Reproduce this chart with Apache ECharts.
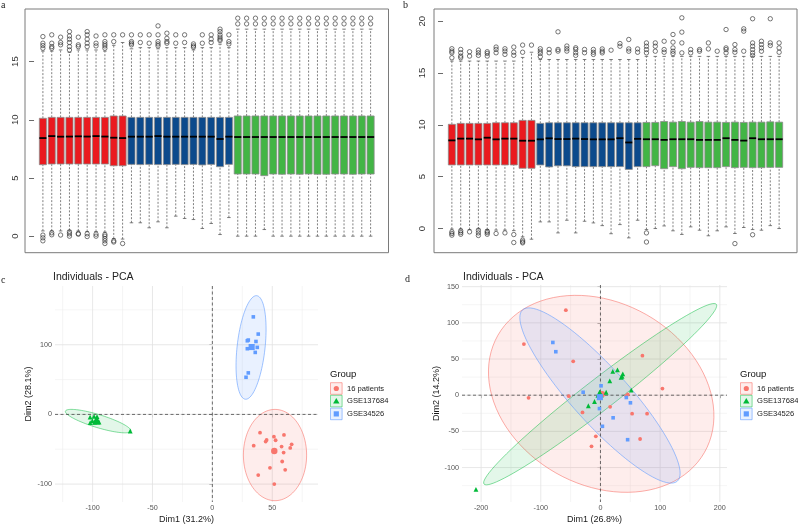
<!DOCTYPE html>
<html>
<head>
<meta charset="utf-8">
<style>
  html, body { margin: 0; padding: 0; background: #fff; }
  #chart { width: 798px; height: 525px; }
</style>
<script src="https://cdn.jsdelivr.net/npm/echarts@6/dist/echarts.min.js"></script>
</head>
<body>
<div id="chart"></div>
<script>
// ---- panel a / b : boxplots (38 samples each, 3 datasets) ----
const boxGroupSizes = [10, 12, 16]
const boxFill = ['#EA1A1F', '#0C4A8C', '#42B545']

const aLow = [0.45, 0.45, 0.45, 0.5, 0.45, 0.4, 0.4, 0.35, -0.2, -0.25,
  1.15, 1.15, 0.72, 1.23, 0.72, 1.72, 1.52, 1.43, 0.66, 1.09, 0.14, 1.6,
  0, 0, 0, 0.57, 0, 0, 0, 0, 0, 0, 0, 0, 0, 0, 0, 0]
const aQ1 = [6.14, 6.2, 6.2, 6.2, 6.2, 6.2, 6.2, 6.2, 6.05, 6.05,
  6.17, 6.15, 6.17, 6.15, 6.15, 6.17, 6.15, 6.17, 6.12, 6.17, 5.97, 6.17,
  5.34, 5.34, 5.34, 5.2, 5.34, 5.32, 5.34, 5.32, 5.34, 5.32, 5.32, 5.34, 5.34, 5.32, 5.34, 5.34]
const aMed = [8.43, 8.6, 8.55, 8.56, 8.58, 8.56, 8.6, 8.56, 8.46, 8.43,
  8.55, 8.55, 8.55, 8.6, 8.55, 8.55, 8.55, 8.55, 8.55, 8.55, 8.35, 8.55,
  8.52, 8.52, 8.52, 8.52, 8.52, 8.52, 8.52, 8.52, 8.52, 8.52, 8.52, 8.52, 8.52, 8.52, 8.52, 8.52]
const aQ3 = [10.13, 10.21, 10.21, 10.21, 10.21, 10.21, 10.21, 10.21, 10.33, 10.33,
  10.21, 10.21, 10.21, 10.21, 10.21, 10.21, 10.21, 10.21, 10.21, 10.21, 10.21, 10.21,
  10.33, 10.33, 10.33, 10.33, 10.33, 10.33, 10.33, 10.33, 10.33, 10.33, 10.33, 10.33, 10.33, 10.33, 10.33, 10.33]
const aHigh = [15.9, 15.9, 16.0, 15.8, 16.0, 16.0, 16.0, 15.9, 16.4, 16.64,
  16.1, 16.2, 16.2, 16.1, 16.2, 16.2, 16.2, 16.0, 16.2, 16.2, 16.5, 16.2,
  17.79, 17.79, 17.79, 17.79, 17.79, 17.79, 17.79, 17.79, 17.79, 17.79, 17.79, 17.79, 17.79, 17.79, 17.79, 17.79]
const aOutHigh = [
  [16.15, 16.38, 16.58, 17.15], [16.15, 16.29, 16.58, 17.3], [16.44, 16.64, 17.1],
  [16.0, 16.29, 16.64, 16.93, 17.2, 17.58], [16.29, 16.44, 17.1], [16.29, 16.58, 16.93, 17.3, 17.58],
  [16.35, 16.58, 17.2], [16.15, 16.35, 16.52, 16.72, 17.3], [16.72, 17.3], [17.3],
  [16.44, 16.58, 16.72, 17.3], [16.64, 17.3], [16.58, 17.3], [16.35, 16.52, 16.72, 17.3, 18.07],
  [16.58, 16.72, 17.0, 17.44], [16.58, 17.3], [16.64, 17.3], [16.24, 16.35, 16.52],
  [16.58, 17.3], [16.64, 16.93, 17.3], [16.81, 16.93, 17.1, 17.3, 17.58, 17.79], [16.52, 16.72, 17.3],
  [18.24, 18.73], [18.24, 18.73], [18.24, 18.73], [18.24, 18.73], [18.24, 18.73], [18.24, 18.73],
  [18.24, 18.73], [18.24, 18.73], [18.24, 18.73], [18.24, 18.73], [18.24, 18.73], [18.24, 18.73],
  [18.24, 18.73], [18.24, 18.73], [18.24, 18.73], [18.24, 18.73]
]
const aOutLow = [
  [0.09, -0.14, -0.4], [0.29, 0.12], [0.1], [0.37, 0.2, 0.0], [0.23, 0.17], [0.2, -0.03],
  [0.17, 0.0], [0.14, 0.0, -0.2, -0.4, -0.63], [-0.4, -0.5], [-0.63]
]

const bLow = [-0.05, -0.05, -0.1, -0.05, -0.1, -0.15, -0.15, -0.2, -0.8, -1.03,
  0.64, 0.64, -0.42, 0.8, -0.42, 0.7, 0.54, 0.28, -0.5, 0.38, -0.9, 0.8,
  -0.1, 0.0, 0.25, -0.22, -0.57, 0.16, -0.16, -0.7, -0.22, 0.16, -0.48, 0.1, -0.1, -0.16, 0.28, 0.0]
const bQ1 = [6.13, 6.13, 6.13, 6.13, 6.13, 6.13, 6.13, 6.13, 5.81, 5.81,
  6.13, 5.94, 6.05, 6.05, 5.97, 5.97, 5.97, 5.97, 5.97, 5.97, 5.7, 5.97,
  5.97, 6.06, 5.77, 5.97, 5.77, 5.9, 5.87, 5.87, 5.87, 5.97, 5.87, 5.9, 5.87, 5.87, 5.9, 5.9]
const bMed = [8.5, 8.67, 8.67, 8.6, 8.76, 8.6, 8.67, 8.67, 8.47, 8.47,
  8.6, 8.7, 8.63, 8.63, 8.67, 8.63, 8.6, 8.6, 8.6, 8.71, 8.3, 8.65,
  8.61, 8.61, 8.55, 8.61, 8.61, 8.61, 8.55, 8.55, 8.55, 8.71, 8.55, 8.48, 8.71, 8.61, 8.61, 8.61]
const bQ3 = [10.05, 10.14, 10.14, 10.14, 10.14, 10.2, 10.2, 10.2, 10.43, 10.43,
  10.14, 10.2, 10.2, 10.2, 10.2, 10.2, 10.2, 10.2, 10.2, 10.2, 10.2, 10.2,
  10.23, 10.23, 10.32, 10.26, 10.32, 10.26, 10.32, 10.26, 10.26, 10.23, 10.26, 10.23, 10.26, 10.26, 10.29, 10.26]
const bHigh = [16.15, 16.15, 16.15, 16.15, 16.15, 16.15, 16.15, 16.15, 16.5, 17.0,
  16.3, 16.3, 16.3, 16.3, 16.3, 16.3, 16.3, 16.3, 16.3, 16.3, 16.3, 16.3,
  16.6, 16.6, 16.6, 16.6, 16.6, 16.6, 16.6, 16.6, 16.6, 16.6, 16.6, 16.6, 16.6, 16.6, 16.6, 16.6]
const bOutHigh = [
  [16.47, 16.95, 17.11, 17.34], [16.47, 16.63, 16.95, 17.27], [16.63, 17.05], [16.7, 16.95, 17.2],
  [16.63, 16.89, 17.05], [16.95, 17.27, 17.5], [16.79, 17.11, 17.34], [16.7, 17.0, 17.5],
  [17.0, 17.69], [17.69],
  [16.57, 16.89, 17.11, 17.34], [16.95, 17.27], [17.11, 17.27, 18.97], [17.11, 17.34, 17.6],
  [16.7, 16.95, 17.27, 17.43], [16.95, 17.27], [16.79, 17.0, 17.27], [16.94, 17.1, 17.32],
  [17.2], [17.58, 17.84], [17.1, 17.32, 18.23], [17.0, 17.32],
  [16.94, 17.26, 17.58, 17.9], [17.1, 17.58, 17.9], [17.0, 17.26, 18.06], [16.87, 17.1, 17.42, 17.97, 18.71],
  [16.94, 17.9, 18.94, 20.32], [16.94, 17.26], [17.1, 17.26], [17.32, 17.9], [17.1],
  [16.94, 17.26, 17.42, 19.19], [17.0, 17.26, 17.74], [17.1, 19.03, 19.26],
  [16.68, 16.94, 17.26, 17.58, 17.9, 20.23], [17.1, 17.42, 17.74, 18.06], [17.65, 17.9, 20.23], [17.0, 17.42, 17.9]
]
const bOutLow = [
  [-0.32, -0.48, -0.64], [-0.22, -0.39, -0.55], [-0.32], [-0.16, -0.42, -0.67], [-0.26, -0.39, -0.55],
  [-0.48], [-0.42], [-0.58, -1.35], [-1.12, -1.28, -1.38], [],
  [], [], [], [], [], [], [], [], [], [], [], [],
  [-0.42, -1.3], [], [], [], [], [], [], [], [], [], [-1.45], [], [-0.6], [], [], []
]
const aYTicks = [0, 5, 10, 15]
const bYTicks = [0, 5, 10, 15, 20]

// ---- panel c / d : PCA individuals ----
const groupNames = ['16 patients', 'GSE137684', 'GSE34526']
const groupColors = ['#F8766D', '#00BA38', '#619CFF']
const groupFills = ['rgba(248,118,109,0.13)', 'rgba(0,186,56,0.11)', 'rgba(97,156,255,0.14)']
const groupEdges = ['rgba(248,118,109,0.75)', 'rgba(0,186,56,0.6)', 'rgba(97,156,255,0.75)']

const cRedX = [39.8, 45.3, 44.5, 51.4, 52.8, 59.8, 34.5, 57.8, 66.2, 65.0, 59.5, 58.3, 48.1, 60.8, 38.3, 51.7]
const cRedY = [-26.2, -36.7, -39.0, -31.9, -37.1, -29.5, -44.8, -46.2, -42.9, -48.1, -54.8, -67.6, -76.7, -79.5, -87.1, -100]
const cGreenX = [-102.1, -98.8, -96.3, -100.2, -98.2, -94.6, -102.0, -95.7, -68.6]
const cGreenY = [-3.8, -2.8, -3.3, -9.0, -11.4, -11.0, -11.9, -8.1, -23.8]
const cBlueX = [34.2, 38.3, 30.0, 29.2, 36.4, 29.2, 37.5, 35.8, 30.0, 28.1]
const cBlueY = [140, 115.3, 106.7, 105.7, 104.7, 94.3, 96.2, 89, 59.6, 53.3]
const cMeans = [[51.7, -52.4], [-97.0, -8.6], [32.8, 96.7]]
const cEllCenter = [[52.3, -58.3], [-95.4, -9.6], [32.3, 96.1]]
const cEllU = [[0, 65.5], [27.3, -14.3], [4.75, 74.3]]
const cEllV = [[26.4, 0], [-1.6, -8.9], [11.6, -2.1]]

const dRedX = [-58, -128.3, -45.7, -120.5, -53, -30.1, 16.2, -7.8, -15, 70.3, 103.8, 53, 78.1, 66.4, 45.7, 43]
const dRedY = [117.5, 70.7, 46.8, -3.6, -1.3, -23.8, -16, -56.8, -70.6, 54.6, 9.2, -25.6, -25.6, -60.5, 1, -0.8]
const dGreenX = [20.6, 28.5, 37.4, 34.6, 36.3, 15.6, 9.5, -1.1, -10, -20.3, 51.6, -208.6]
const dGreenY = [33, 34.9, 29.4, 24.8, 26.1, 19.8, 4.1, 3.7, -8.7, -14.6, 7, -130.1]
const dBlueX = [-79.8, -74.8, -29, 1, -1.7, 21.2, 3.3, 45.5, 43.3, 50.2]
const dBlueY = [72.9, 60.1, 4.1, 13, -18.5, -31.2, -43, -61.5, -3.2, -10.5]
const dMeans = [[2.5, 1.5], [-1.5, 2.0], [-1.0, -2.7]]
const dEllCenter = [[1.2, 1.9], [-0.5, 1.4], [-0.8, -0.4]]
const dEllU = [[173, -81], [194.6, 124.2], [129.7, -118.3]]
const dEllV = [[-75.8, -109.4], [15.9, -16.8], [-34.8, -25.9]]

const cXTicks = [-100, -50, 0, 50], cXMinor = [-125, -75, -25, 25, 75]
const cYTicks = [-100, 0, 100], cYMinor = [-50, 50, 150]
const dXTicks = [-200, -100, 0, 100, 200], dXMinor = [-150, -50, 50, 150]
const dYTicks = [-100, -50, 0, 50, 100, 150], dYMinor = [-125, -75, -25, 25, 75, 125]

const FONT = 'Liberation Sans'
const chart = echarts.init(document.getElementById('chart'), null, {renderer: 'canvas'})

function boxGroupOf(i) {
  let acc = 0
  for (let g = 0; g < boxGroupSizes.length; g++) {
    acc += boxGroupSizes[g]
    if (i < acc) return g
  }
  return boxGroupSizes.length - 1
}

function boxSeries(idx, low, q1, med, q3, high) {
  return {
    type: 'custom',
    xAxisIndex: idx,
    yAxisIndex: idx,
    silent: true,
    z: 2,
    encode: {x: 0, y: [1, 2, 3, 4, 5]},
    data: low.map((v, i) => [i + 1, v, q1[i], med[i], q3[i], high[i], boxGroupOf(i)]),
    renderItem(params, api) {
      const x = api.value(0)
      const lo = api.coord([x, api.value(1)])
      const p1 = api.coord([x, api.value(2)])
      const md = api.coord([x, api.value(3)])
      const p3 = api.coord([x, api.value(4)])
      const hi = api.coord([x, api.value(5)])
      const half = api.size([0.8, 0])[0] / 2
      const cap = half / 2
      const dash = {stroke: '#4a4a4a', lineWidth: 0.7, lineDash: [2, 1.6]}
      const solid = {stroke: '#4a4a4a', lineWidth: 0.7}
      return {
        type: 'group',
        children: [
          {type: 'line', shape: {x1: lo[0], y1: lo[1], x2: p1[0], y2: p1[1]}, style: dash},
          {type: 'line', shape: {x1: p3[0], y1: p3[1], x2: hi[0], y2: hi[1]}, style: dash},
          {type: 'line', shape: {x1: lo[0] - cap, y1: lo[1], x2: lo[0] + cap, y2: lo[1]}, style: solid},
          {type: 'line', shape: {x1: hi[0] - cap, y1: hi[1], x2: hi[0] + cap, y2: hi[1]}, style: solid},
          {
            type: 'rect',
            shape: {x: p3[0] - half, y: p3[1], width: half * 2, height: p1[1] - p3[1]},
            style: {fill: boxFill[api.value(6)], stroke: '#8c8c8c', lineWidth: 0.8}
          },
          {type: 'line', shape: {x1: md[0] - half, y1: md[1], x2: md[0] + half, y2: md[1]}, style: {stroke: '#000', lineWidth: 1.8}}
        ]
      }
    }
  }
}

function outlierSeries(idx, outHigh, outLow) {
  const data = []
  outHigh.forEach((vals, i) => vals.forEach(v => data.push([i + 1, v])))
  outLow.forEach((vals, i) => vals.forEach(v => data.push([i + 1, v])))
  return {
    type: 'scatter',
    xAxisIndex: idx,
    yAxisIndex: idx,
    silent: true,
    z: 3,
    symbol: 'circle',
    symbolSize: 4.4,
    itemStyle: {color: 'rgba(0,0,0,0)', borderColor: '#2a2a2a', borderWidth: 0.8},
    data
  }
}

function gridLineSeries(idx, xMajor, xMinor, yMajor, yMinor) {
  const data = []
  xMinor.forEach(v => data.push([v, 0, 0]))
  yMinor.forEach(v => data.push([v, 1, 0]))
  xMajor.forEach(v => data.push([v, 0, 1]))
  yMajor.forEach(v => data.push([v, 1, 1]))
  return {
    type: 'custom',
    xAxisIndex: idx,
    yAxisIndex: idx,
    silent: true,
    z: 1,
    data,
    renderItem(params, api) {
      const cs = params.coordSys
      const v = api.value(0)
      const style = api.value(2) === 1
        ? {stroke: '#E2E2E2', lineWidth: 0.8}
        : {stroke: '#EEEEEE', lineWidth: 0.6}
      if (api.value(1) === 0) {
        const px = api.coord([v, 0])[0]
        return {type: 'line', shape: {x1: px, y1: cs.y, x2: px, y2: cs.y + cs.height}, style}
      }
      const py = api.coord([0, v])[1]
      return {type: 'line', shape: {x1: cs.x, y1: py, x2: cs.x + cs.width, y2: py}, style}
    }
  }
}

function zeroLineSeries(idx) {
  return {
    type: 'custom',
    xAxisIndex: idx,
    yAxisIndex: idx,
    silent: true,
    z: 3,
    data: [[0, 0], [0, 1]],
    renderItem(params, api) {
      const cs = params.coordSys
      const o = api.coord([0, 0])
      const style = {stroke: '#333', lineWidth: 0.7, lineDash: [3, 2.5]}
      if (api.value(1) === 0) {
        return {type: 'line', shape: {x1: o[0], y1: cs.y, x2: o[0], y2: cs.y + cs.height}, style}
      }
      return {type: 'line', shape: {x1: cs.x, y1: o[1], x2: cs.x + cs.width, y2: o[1]}, style}
    }
  }
}

function ellipseSeries(idx, centers, us, vs) {
  return {
    type: 'custom',
    xAxisIndex: idx,
    yAxisIndex: idx,
    silent: true,
    z: 2,
    data: centers.map((c, g) => [c[0], c[1], us[g][0], us[g][1], vs[g][0], vs[g][1], g]),
    renderItem(params, api) {
      const pts = []
      for (let k = 0; k < 96; k++) {
        const t = k / 96 * Math.PI * 2
        pts.push(api.coord([
          api.value(0) + api.value(2) * Math.cos(t) + api.value(4) * Math.sin(t),
          api.value(1) + api.value(3) * Math.cos(t) + api.value(5) * Math.sin(t)
        ]))
      }
      const g = api.value(6)
      return {
        type: 'polygon',
        shape: {points: pts},
        style: {fill: groupFills[g], stroke: groupEdges[g], lineWidth: 0.8}
      }
    }
  }
}

const symbols = ['circle', 'triangle', 'rect']
const symbolSizes = [3.8, 4.8, 3.6]
function pointSeries(idx, g, xs, ys, mean) {
  return [{
    type: 'scatter',
    xAxisIndex: idx,
    yAxisIndex: idx,
    silent: true,
    z: 4,
    symbol: symbols[g],
    symbolSize: symbolSizes[g],
    itemStyle: {color: groupColors[g], opacity: 1},
    data: xs.map((x, i) => [x, ys[i]])
  }, {
    type: 'scatter',
    xAxisIndex: idx,
    yAxisIndex: idx,
    silent: true,
    z: 4,
    symbol: symbols[g],
    symbolSize: symbolSizes[g] * 1.7,
    itemStyle: {color: groupColors[g], opacity: 1},
    data: [mean]
  }]
}

function boxYAxis(idx, min, max, ticks, margin) {
  return {
    gridIndex: idx, type: 'value', min, max,
    axisLine: {show: false},
    splitLine: {show: false},
    axisTick: {show: true, length: 5, customValues: ticks, lineStyle: {color: '#444', width: 0.8}},
    axisLabel: {customValues: ticks, rotate: 90, fontSize: 9.5, fontFamily: FONT, color: '#333', margin}
  }
}
function boxXAxis(idx) {
  return {gridIndex: idx, type: 'value', min: -1.02, max: 40.02, show: false}
}
function pcaAxis(idx, range, ticks, name, gap) {
  return {
    gridIndex: idx, type: 'value', min: range[0], max: range[1],
    name, nameLocation: 'middle', nameGap: gap,
    nameTextStyle: {fontSize: 9, fontFamily: FONT, color: '#1a1a1a'},
    axisLine: {show: false},
    splitLine: {show: false},
    axisTick: {show: true, length: 3, customValues: ticks, lineStyle: {color: '#555', width: 0.6}},
    axisLabel: {customValues: ticks, fontSize: 7.2, fontFamily: FONT, color: '#555', margin: 3}
  }
}

function legendGraphic(x0) {
  const els = [{
    type: 'text', left: x0, top: 369,
    style: {text: 'Group', fontSize: 9.5, fontFamily: FONT, fill: '#111'}
  }]
  const tops = [382.7, 395.3, 408.1]
  groupNames.forEach((name, g) => {
    const cy = tops[g] + 5.8
    const cx = x0 + 6.3
    els.push({type: 'rect', shape: {x: x0 + 0.5, y: tops[g], width: 11.6, height: 11.6},
      style: {fill: groupFills[g], stroke: groupEdges[g], lineWidth: 0.8}})
    if (g === 0) {
      els.push({type: 'circle', shape: {cx, cy, r: 2.6}, style: {fill: groupColors[g]}})
    } else if (g === 1) {
      els.push({type: 'polygon', shape: {points: [[cx, cy - 3.2], [cx + 3.2, cy + 2.4], [cx - 3.2, cy + 2.4]]}, style: {fill: groupColors[g]}})
    } else {
      els.push({type: 'rect', shape: {x: cx - 2.6, y: cy - 2.6, width: 5.2, height: 5.2}, style: {fill: groupColors[g]}})
    }
    els.push({type: 'text', x: x0 + 17, y: cy, style: {text: name, fontSize: 7.6, fontFamily: FONT, fill: '#222', verticalAlign: 'middle'}})
  })
  return els
}

const option = {
  animation: false,
  backgroundColor: '#fff',
  grid: [
    {left: 25, top: 9, width: 363.5, height: 243.7, show: true, borderColor: '#7a7a7a', borderWidth: 1, backgroundColor: 'transparent'},
    {left: 434, top: 9, width: 363, height: 243.7, show: true, borderColor: '#7a7a7a', borderWidth: 1, backgroundColor: 'transparent'},
    {left: 55, top: 286, width: 263, height: 217},
    {left: 462, top: 285, width: 265, height: 218}
  ],
  xAxis: [
    boxXAxis(0),
    boxXAxis(1),
    pcaAxis(2, [-131.4, 88.2], cXTicks, 'Dim1 (31.2%)', 13),
    pcaAxis(3, [-232, 212], dXTicks, 'Dim1 (26.8%)', 13)
  ],
  yAxis: [
    boxYAxis(0, -1.42, 19.52, aYTicks, 5),
    boxYAxis(1, -2.33, 21.17, bYTicks, 7),
    pcaAxis(2, [-125.7, 184.3], cYTicks, 'Dim2 (28.1%)', 22),
    pcaAxis(3, [-147.6, 152.3], dYTicks, 'Dim2 (14.2%)', 20)
  ],
  series: [
    boxSeries(0, aLow, aQ1, aMed, aQ3, aHigh),
    outlierSeries(0, aOutHigh, aOutLow),
    boxSeries(1, bLow, bQ1, bMed, bQ3, bHigh),
    outlierSeries(1, bOutHigh, bOutLow),
    gridLineSeries(2, cXTicks, cXMinor, cYTicks, cYMinor),
    gridLineSeries(3, dXTicks, dXMinor, dYTicks, dYMinor),
    ellipseSeries(2, cEllCenter, cEllU, cEllV),
    ellipseSeries(3, dEllCenter, dEllU, dEllV),
    zeroLineSeries(2),
    zeroLineSeries(3),
    ...pointSeries(2, 0, cRedX, cRedY, cMeans[0]),
    ...pointSeries(2, 1, cGreenX, cGreenY, cMeans[1]),
    ...pointSeries(2, 2, cBlueX, cBlueY, cMeans[2]),
    ...pointSeries(3, 0, dRedX, dRedY, dMeans[0]),
    ...pointSeries(3, 1, dGreenX, dGreenY, dMeans[1]),
    ...pointSeries(3, 2, dBlueX, dBlueY, dMeans[2])
  ],
  graphic: [
    {type: 'text', x: 1, y: 5, style: {text: 'a', fontSize: 10, fontFamily: 'Liberation Serif', fill: '#222', verticalAlign: 'middle'}},
    {type: 'text', x: 403, y: 5, style: {text: 'b', fontSize: 10, fontFamily: 'Liberation Serif', fill: '#222', verticalAlign: 'middle'}},
    {type: 'text', x: 1, y: 280, style: {text: 'c', fontSize: 10, fontFamily: 'Liberation Serif', fill: '#222', verticalAlign: 'middle'}},
    {type: 'text', x: 405, y: 279.5, style: {text: 'd', fontSize: 10, fontFamily: 'Liberation Serif', fill: '#222', verticalAlign: 'middle'}},
    {type: 'text', x: 53, y: 277.5, style: {text: 'Individuals - PCA', fontSize: 10.5, fontFamily: FONT, fill: '#222', verticalAlign: 'middle'}},
    {type: 'text', x: 463, y: 277.5, style: {text: 'Individuals - PCA', fontSize: 10.5, fontFamily: FONT, fill: '#222', verticalAlign: 'middle'}},
    ...legendGraphic(330),
    ...legendGraphic(740)
  ]
}

chart.setOption(option)
</script>
</body>
</html>
